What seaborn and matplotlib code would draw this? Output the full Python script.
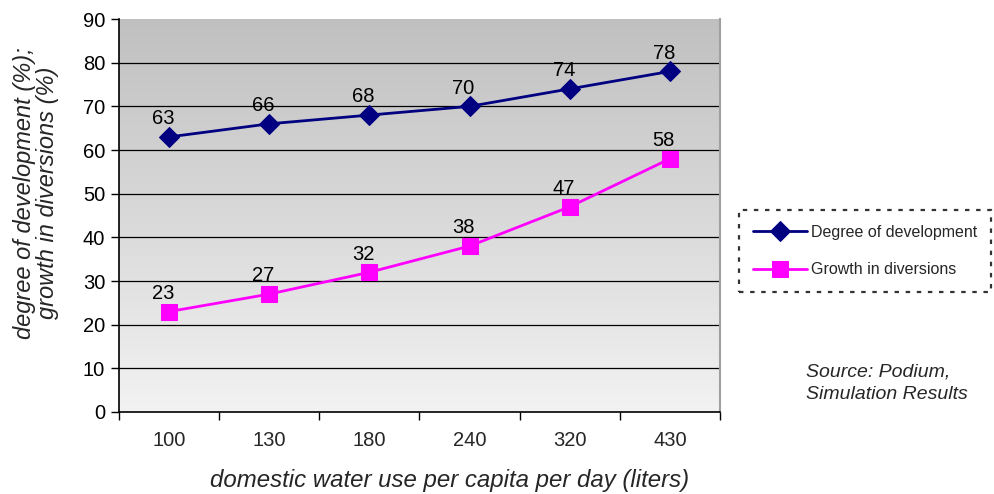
import numpy as np
import pandas as pd
import matplotlib
matplotlib.use("Agg")
import matplotlib.pyplot as plt
import seaborn as sns
from matplotlib.colors import LinearSegmentedColormap
from matplotlib.ticker import FixedLocator, NullFormatter

water_use = ["100", "130", "180", "240", "320", "430"]
development = [63, 66, 68, 70, 74, 78]
diversions = [23, 27, 32, 38, 47, 58]

sns.set_theme(style="white")
plt.rcParams["font.family"] = ["Liberation Sans", "DejaVu Sans"]

df = pd.DataFrame({
    "pos": list(range(len(water_use))) * 2,
    "value": development + diversions,
    "series": ["Degree of development"] * len(water_use) + ["Growth in diversions"] * len(water_use),
})

fig = plt.figure(figsize=(9.95, 4.94), dpi=100)
ax = fig.add_axes([0.1196, 0.166, 0.604, 0.7955])

# vertical grey gradient behind the plot
cmap = LinearSegmentedColormap.from_list("bg", ["#f2f2f2", "#c0c0c0"])
grad = np.linspace(0, 1, 256).reshape(-1, 1)
ax.imshow(grad, extent=[0, 1, 0, 1], transform=ax.transAxes, cmap=cmap,
          aspect="auto", origin="lower", zorder=0)

colors = {"Degree of development": "#000080", "Growth in diversions": "#ff00ff"}
markers = {"Degree of development": "D", "Growth in diversions": "s"}
sizes = {"Degree of development": 10, "Growth in diversions": 11}
for name, sub in df.groupby("series", sort=False):
    sns.lineplot(data=sub, x="pos", y="value", ax=ax, color=colors[name],
                 marker=markers[name], markersize=sizes[name], markeredgecolor=colors[name],
                 linewidth=2.0, label=name, zorder=3)
    for x, y in zip(sub["pos"], sub["value"]):
        ax.text(x - 0.06, y + 2.0, f"{y}", ha="center", va="bottom", fontsize=14.5, color="black", zorder=4)

ax.set_xlim(-0.5, 5.5)
ax.set_ylim(0, 90)
ax.set_xlabel("")
ax.set_ylabel("")
ax.set_yticks(range(0, 91, 10))
ax.tick_params(axis="y", labelsize=14.5, length=6, width=1, direction="out", left=True, colors="black", pad=4)
ax.xaxis.set_major_locator(FixedLocator(np.arange(-0.5, 6, 1)))
ax.xaxis.set_major_formatter(NullFormatter())
ax.xaxis.set_minor_locator(FixedLocator(range(len(water_use))))
ax.set_xticklabels(water_use, minor=True)
ax.tick_params(axis="x", which="major", length=6, width=1, direction="out", bottom=True, colors="black")
ax.tick_params(axis="x", which="minor", length=0, labelsize=14.5, pad=14)
for y in range(10, 90, 10):
    ax.axhline(y, color="black", linewidth=0.9, zorder=1)

for side in ["left", "bottom"]:
    ax.spines[side].set_color("black")
    ax.spines[side].set_linewidth(1.2)
ax.spines["top"].set_visible(False)
ax.spines["right"].set_color("#a0a0a0")
ax.spines["right"].set_linewidth(1.5)

fig.text(450 / 995, 1 - 480 / 494, "domestic water use per capita per day (liters)",
         fontsize=17.3, style="italic", ha="center", va="center")
fig.text(36 / 995, 1 - 193 / 494, "degree of development (%);\ngrowth in diversions (%)",
         fontsize=17, style="italic", ha="center", va="center", rotation=90,
         linespacing=1.05, multialignment="center")

ax.get_legend().remove()
handles, labels = ax.get_legend_handles_labels()
leg = fig.legend(handles, labels, loc="center", bbox_to_anchor=(865 / 995, 1 - 251 / 494),
                 fontsize=11.5, frameon=True, fancybox=False, borderpad=0.9,
                 labelspacing=1.4, handlelength=3.4, handletextpad=0.2, borderaxespad=0)
frame = leg.get_frame()
frame.set_edgecolor("black")
frame.set_linestyle((0, (2, 3)))
frame.set_linewidth(1.6)
frame.set_facecolor("white")

fig.text(806 / 995, 1 - 383 / 494, "Source: Podium,\nSimulation Results", fontsize=14, style="italic",
         ha="left", va="center", linespacing=1.4)

fig.savefig("out.png", dpi=100)
